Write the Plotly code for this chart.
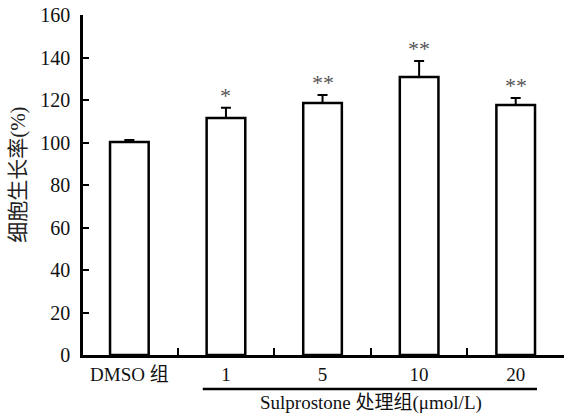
import plotly.graph_objects as go

categories = ["DMSO 组", "1", "5", "10", "20"]
means = [100.2, 111.5, 118.6, 130.8, 117.6]
errors = [1.0, 4.8, 3.8, 7.6, 3.3]
stars = ["", "*", "**", "**", "**"]
y_ticks = [0, 20, 40, 60, 80, 100, 120, 140, 160]
x_title = "Sulprostone 处理组(μmol/L)"
y_title = "细胞生长率(%)"

FONT = "Liberation Serif, Times New Roman, Noto Sans CJK SC, serif"
xpos = list(range(len(categories)))

fig = go.Figure()
fig.add_trace(go.Bar(
    x=xpos, y=means, width=0.4,
    marker=dict(color="white", line=dict(color="black", width=2.5)),
    error_y=dict(type="data", array=errors, arrayminus=[0] * len(errors),
                 symmetric=False, color="black", thickness=2, width=5),
    showlegend=False,
))

for xi, m, e, s in zip(xpos, means, errors, stars):
    if s:
        fig.add_annotation(x=xi, y=m + e, text=s, showarrow=False,
                           yanchor="bottom", yshift=-2,
                           font=dict(family=FONT, size=22, color="#555555"))

fig.add_annotation(xref="paper", yref="paper", x=-0.135, y=0.53,
                   xanchor="center", yanchor="middle",
                   text=y_title, textangle=-90, showarrow=False,
                   font=dict(family=FONT, size=21, color="#222222"))

fig.add_annotation(xref="x", yref="paper", x=2.5, y=-0.142, yanchor="middle",
                   text=x_title, showarrow=False,
                   font=dict(family=FONT, size=19, color="#111111"))

fig.add_shape(type="line", xref="x", yref="paper", x0=0.76, x1=4.22,
              y0=-0.1, y1=-0.1, line=dict(color="black", width=2.5))

fig.update_layout(
    width=564, height=415,
    margin=dict(l=83, r=0, t=15, b=60),
    paper_bgcolor="white", plot_bgcolor="white",
    font=dict(family=FONT, size=19, color="#111111"),
    xaxis=dict(range=[-0.48, 4.5], tickvals=xpos, ticktext=categories,
               ticks="", showgrid=False, zeroline=False,
               showline=True, linecolor="black", linewidth=2.5,
               minor=dict(tickvals=[0.5, 1.5, 2.5, 3.5], ticks="inside",
                          ticklen=7, tickwidth=2, tickcolor="black"),
               tickfont=dict(size=19)),
    yaxis=dict(range=[0, 160], tickvals=y_ticks, ticks="inside", ticklen=6,
               tickwidth=2, tickcolor="black", showgrid=False, zeroline=False,
               showline=True, linecolor="black", linewidth=2.5,
               ticklabelstandoff=6, tickfont=dict(size=20)),
)

fig.write_html("out.html", config={"displayModeBar": False},
               post_script="document.body.style.margin='0';document.body.style.overflow='hidden';")
